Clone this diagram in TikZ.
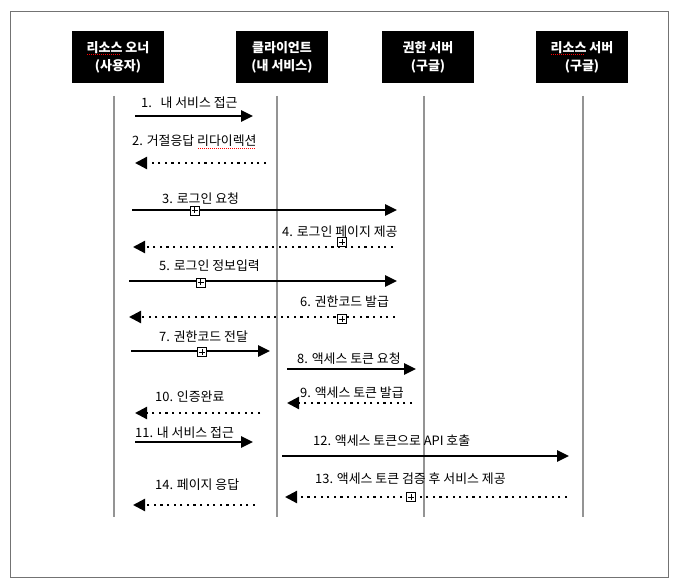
\documentclass[tikz,border=0pt]{standalone}
\usepackage{fontspec}
\setmainfont{Noto Sans CJK KR}
\usetikzlibrary{arrows.meta}
\newsavebox\spellbox
\newcommand\spellmark[1]{\sbox\spellbox{#1}\rlap{\raisebox{-0.4ex}{\textcolor{red}{\hbox to \wd\spellbox{\leaders\hbox to 2pt{\hss\rule{1pt}{1pt}\hss}\hfill}}}}\usebox\spellbox}

\begin{document}
\begin{tikzpicture}[x=1pt,y=-1pt,
    actor/.style={fill=black,text=white,minimum width=92pt,minimum height=52pt,align=center,font=\fontsize{13}{18}\selectfont\bfseries},
    life/.style={draw=black!42,line width=2.5pt},
    call/.style={line width=2.6pt,-{Triangle[length=12pt,width=11pt]}},
    reply/.style={line width=2.2pt,dash pattern=on 2.2pt off 4.4pt,-{Triangle[length=12pt,width=12pt]}},
    msg/.style={anchor=west,inner sep=0pt,font=\fontsize{12.9}{15}\selectfont},
    plusbox/.style={draw,fill=white,line width=0.6pt,minimum size=9pt,inner sep=0pt,
        path picture={\draw[line width=0.6pt] ([yshift=-1.5pt]path picture bounding box.north) -- ([yshift=1.5pt]path picture bounding box.south)
            ([xshift=1.5pt]path picture bounding box.west) -- ([xshift=-1.5pt]path picture bounding box.east);}}]
    \useasboundingbox (0,0) rectangle (683,588);
    \draw[black!55,line width=1pt] (10,12) rectangle (668,577);

    % participants
    \node[actor] at (118,57) (ro) {\spellmark{리소스} 오너\\(사용자)};
    \node[actor] at (282,57) (cl) {클라이언트\\(내 서비스)};
    \node[actor] at (428,57) (as) {권한 서버\\(구글)};
    \node[actor] at (582,57) (rs) {\spellmark{리소스} 서버\\(구글)};

    % lifelines
    \coordinate (ro1) at (114,96);  \coordinate (ro2) at (114,517);
    \coordinate (cl1) at (277,96);  \coordinate (cl2) at (277,517);
    \coordinate (as1) at (424,96);  \coordinate (as2) at (424,517);
    \coordinate (rs1) at (583,96);  \coordinate (rs2) at (583,517);
    \draw[life] (ro1) -- (ro2);
    \draw[life] (cl1) -- (cl2);
    \draw[life] (as1) -- (as2);
    \draw[life] (rs1) -- (rs2);

    % messages
    \coordinate (m1a) at (135,116);  \coordinate (m1b) at (253,116);
    \coordinate (m2a) at (266,163);  \coordinate (m2b) at (135,163);
    \coordinate (m3a) at (132,210);  \coordinate (m3b) at (397,210);
    \coordinate (m4a) at (393,247);  \coordinate (m4b) at (133,247);
    \coordinate (m5a) at (129,281);  \coordinate (m5b) at (397,281);
    \coordinate (m6a) at (395,317);  \coordinate (m6b) at (129,317);
    \coordinate (m7a) at (131,351);  \coordinate (m7b) at (270,351);
    \coordinate (m8a) at (287,369);  \coordinate (m8b) at (416,369);
    \coordinate (m9a) at (412,403);  \coordinate (m9b) at (287,403);
    \coordinate (m10a) at (260,413); \coordinate (m10b) at (135,413);
    \coordinate (m11a) at (135,442); \coordinate (m11b) at (253,442);
    \coordinate (m12a) at (282,456); \coordinate (m12b) at (569,456);
    \coordinate (m13a) at (567,497); \coordinate (m13b) at (285,497);
    \coordinate (m14a) at (255,505); \coordinate (m14b) at (133,505);

    \draw[call] (m1a) -- (m1b);
    \draw[reply] (m2a) -- (m2b);
    \draw[call] (m3a) -- (m3b);
    \draw[reply] (m4a) -- (m4b);
    \draw[call] (m5a) -- (m5b);
    \draw[reply] (m6a) -- (m6b);
    \draw[call] (m7a) -- (m7b);
    \draw[call] (m8a) -- (m8b);
    \draw[reply] (m9a) -- (m9b);
    \draw[reply] (m10a) -- (m10b);
    \draw[call] (m11a) -- (m11b);
    \draw[call] (m12a) -- (m12b);
    \draw[reply] (m13a) -- (m13b);
    \draw[reply] (m14a) -- (m14b);

    \node[msg] at (141,103) (l1) {1.\ \ \ 내 서비스 접근};
    \node[msg] at (132,142) (l2) {2. 거절응답 \spellmark{리다이렉션}};
    \node[msg] at (162,199) (l3) {3. 로그인 요청};
    \node[msg] at (282,232) (l4) {4. 로그인 페이지 제공};
    \node[msg] at (159,266) (l5) {5. 로그인 정보입력};
    \node[msg] at (300,302) (l6) {6. 권한코드 발급};
    \node[msg] at (159,337) (l7) {7. 권한코드 전달};
    \node[msg] at (297,359) (l8) {8. 액세스 토큰 요청};
    \node[msg] at (300,393) (l9) {9. 액세스 토큰 발급};
    \node[msg] at (155,397) (l10) {10. 인증완료};
    \node[msg] at (135,433) (l11) {11. 내 서비스 접근};
    \node[msg] at (313,441) (l12) {12. 액세스 토큰으로 API 호출};
    \node[msg] at (315,479) (l13) {13. 액세스 토큰 검증 후 서비스 제공};
    \node[msg] at (155,485) (l14) {14. 페이지 응답};

    % small boxes
    \node[plusbox] at (194.5,210.5) (p3) {};
    \node[plusbox] at (342,242) (p4) {};
    \node[plusbox] at (200.5,282.5) (p5) {};
    \node[plusbox] at (342,319) (p6) {};
    \node[plusbox] at (202,352) (p7) {};
    \node[plusbox] at (411,497) (p13) {};
\end{tikzpicture}
\end{document}
